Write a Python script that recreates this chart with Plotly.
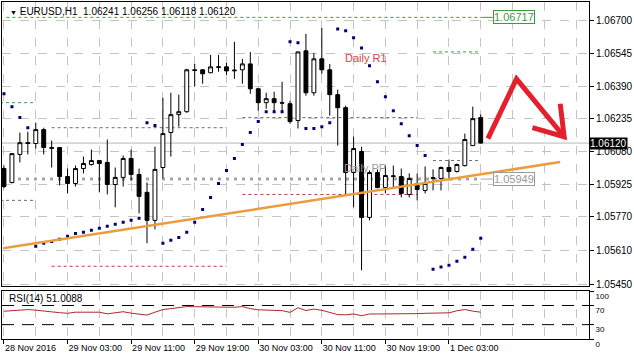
import plotly.graph_objects as go

# ---------------- data ----------------
bars = list(range(61))

opens = [1.05999, 1.05933, 1.06066, 1.06122, 1.06118, 1.06184, 1.06099, 1.06099, 1.05961, 1.05928,
         1.05999, 1.06018, 1.06037, 1.06028, 1.05923, 1.05957, 1.06047, 1.05971, 1.05886, 1.05753,
         1.06004, 1.06170, 1.06255, 1.06269, 1.06468, 1.06468, 1.06454, 1.06482, 1.06482, 1.06463,
         1.06468, 1.06496, 1.06378, 1.06312, 1.06331, 1.06312, 1.06307, 1.06227, 1.06558, 1.06359,
         1.06520, 1.06468, 1.06350, 1.06288, 1.05980, 1.06080, 1.05767, 1.05980, 1.05909, 1.05961,
         1.05961, 1.05876, 1.05928, 1.05895, 1.05952, 1.05952, 1.06004, 1.05985, 1.06013, 1.06108, 1.06241]
highs = [1.06013, 1.06070, 1.06170, 1.06174, 1.06217, 1.06193, 1.06132, 1.06099, 1.05999, 1.06013,
         1.06056, 1.06089, 1.06040, 1.06137, 1.06004, 1.06061, 1.06089, 1.05999, 1.05933, 1.06103,
         1.06335, 1.06359, 1.06350, 1.06473, 1.06496, 1.06470, 1.06539, 1.06539, 1.06501, 1.06601,
         1.06520, 1.06553, 1.06383, 1.06359, 1.06364, 1.06411, 1.06321, 1.06553, 1.06638, 1.06548,
         1.06667, 1.06496, 1.06374, 1.06298, 1.06151, 1.06103, 1.05990, 1.05995, 1.06013, 1.06013,
         1.05999, 1.05976, 1.05976, 1.06009, 1.05995, 1.06009, 1.06042, 1.06023, 1.06165, 1.06293, 1.06256]
lows = [1.05905, 1.05928, 1.06028, 1.06066, 1.06094, 1.06066, 1.06004, 1.05919, 1.05881, 1.05914,
        1.05976, 1.06013, 1.05886, 1.05876, 1.05815, 1.05914, 1.05942, 1.05786, 1.05644, 1.05710,
        1.05952, 1.06056, 1.06198, 1.06264, 1.06388, 1.06402, 1.06452, 1.06459, 1.06444, 1.06425,
        1.06402, 1.06354, 1.06274, 1.06283, 1.06269, 1.06269, 1.06212, 1.06189, 1.06345, 1.06345,
        1.06449, 1.06250, 1.06108, 1.05871, 1.05815, 1.05516, 1.05753, 1.05905, 1.05881, 1.05909,
        1.05862, 1.05862, 1.05848, 1.05881, 1.05895, 1.05895, 1.05942, 1.05980, 1.06009, 1.06108, 1.06118]
closes = [1.05914, 1.06070, 1.06122, 1.06118, 1.06184, 1.06099, 1.06096, 1.05961, 1.05928, 1.05999,
          1.06023, 1.06037, 1.06023, 1.05923, 1.05957, 1.06047, 1.05971, 1.05867, 1.05753, 1.05995,
          1.06165, 1.06255, 1.06269, 1.06468, 1.06465, 1.06449, 1.06482, 1.06480, 1.06463, 1.06466,
          1.06496, 1.06378, 1.06312, 1.06331, 1.06312, 1.06310, 1.06222, 1.06553, 1.06359, 1.06520,
          1.06468, 1.06350, 1.06288, 1.05980, 1.06094, 1.05767, 1.05980, 1.05909, 1.05966, 1.05964,
          1.05881, 1.05952, 1.05900, 1.05928, 1.05955, 1.06004, 1.05985, 1.06018, 1.06137, 1.06236, 1.06120]

sar = [1.06354, 1.06293, 1.06241, 1.06193, 1.05630, 1.05644, 1.05653, 1.05663, 1.05677, 1.05691,
       1.05696, 1.05706, 1.05715, 1.05725, 1.05734, 1.05744, 1.05753, 1.05763, 1.06217, 1.06203,
       1.05644, 1.05658, 1.05672, 1.05696, 1.05744, 1.05805, 1.05862, 1.05928, 1.05990, 1.06047,
       1.06113, 1.06170, 1.06222, 1.06269, 1.06269, 1.06269, 1.06601, 1.06596, 1.06189, 1.06189,
       1.06198, 1.06217, 1.06662, 1.06653, 1.06620, 1.06572, 1.06487, 1.06411, 1.06340, 1.06274,
       1.06212, 1.06155, 1.06108, 1.06061, 1.05521, 1.05531, 1.05540, 1.05559, 1.05578, 1.05616, 1.05668]

rsi = [58.0, 59.0, 60.5, 61.5, 60.2, 58.0, 57.0, 55.0, 53.7, 56.0,
       56.0, 56.2, 56.0, 52.5, 54.5, 57.0, 54.0, 52.0, 50.0, 56.0,
       61.5, 63.5, 65.0, 67.7, 67.5, 67.2, 67.2, 67.0, 66.5, 66.3,
       67.7, 63.5, 61.0, 60.2, 59.8, 59.3, 55.6, 65.3, 59.5, 62.4,
       60.0, 56.0, 51.0, 50.5, 52.3, 48.6, 52.3, 52.3, 52.2, 52.0,
       51.9, 52.5, 53.0, 53.7, 54.5, 54.7, 54.7, 59.0, 61.6, 58.2, 56.0]
rsi_levels = [70, 30]

time_tick_bars = [0, 8, 16, 24, 32, 40, 48, 56]
time_tick_labels = ["28 Nov 2016", "29 Nov 03:00", "29 Nov 11:00", "29 Nov 19:00",
                    "30 Nov 03:00", "30 Nov 11:00", "30 Nov 19:00", "1 Dec 03:00"]
price_ticks = [1.06700, 1.06545, 1.06390, 1.06235, 1.06080, 1.05925, 1.05770, 1.05610, 1.05450]

current_price = 1.06120
daily_pp = 1.05949
daily_r1 = 1.06717

# earlier days' pivot segments
seg_start = [-0.5, -0.5, 6, 6, 30, 30, 54, 54]
seg_end = [4, 4, 28, 28, 52, 52, 60, 60]
seg_level = [1.06312, 1.05848, 1.06193, 1.05535, 1.06241, 1.05876, 1.06553, 1.06037]
seg_kind = ["r", "p", "p", "s", "p", "s", "r", "p"]

trend_bars = [-0.125, 70]
trend_prices = [1.05620, 1.06030]

arrow_bars = [60.9, 64.5, 70.5, None, 70.0, 70.5, 66.5]
arrow_prices = [1.06141, 1.06425, 1.06150, None, 1.06307, 1.06150, 1.06193]

# ---------------- styling ----------------
FONT = "Liberation Sans, Arial, sans-serif"
GRID = "#c4c4c4"
seg_colors = {"r": "#3c9c3c", "p": "#6a6a6a", "s": "#c0393b"}

fig = go.Figure()

fig.add_trace(go.Candlestick(
    x=bars, open=opens, high=highs, low=lows, close=closes,
    increasing=dict(line=dict(color="black", width=1), fillcolor="white"),
    decreasing=dict(line=dict(color="black", width=1), fillcolor="black"),
    whiskerwidth=0, showlegend=False, xaxis="x", yaxis="y"))

fig.add_trace(go.Scatter(
    x=bars, y=sar, mode="markers",
    marker=dict(symbol="square", size=3, color="#00007a"),
    showlegend=False, xaxis="x", yaxis="y"))

fig.add_trace(go.Scatter(
    x=trend_bars, y=trend_prices, mode="lines",
    line=dict(color="#eb9d3e", width=2.5), showlegend=False, xaxis="x", yaxis="y"))

fig.add_trace(go.Scatter(
    x=arrow_bars, y=arrow_prices, mode="lines",
    line=dict(color="#e3202c", width=5), showlegend=False, xaxis="x", yaxis="y"))

fig.add_trace(go.Scatter(
    x=bars, y=rsi, mode="lines",
    line=dict(color="#b0282a", width=1), showlegend=False, xaxis="x2", yaxis="y2"))

shapes = []
for s, e, lv, k in zip(seg_start, seg_end, seg_level, seg_kind):
    shapes.append(dict(type="line", xref="x", yref="y", x0=s, x1=e, y0=lv, y1=lv,
                       line=dict(color=seg_colors[k], width=1, dash="3px,3px"), layer="below"))
shapes.append(dict(type="line", xref="paper", yref="y", x0=0, x1=1, y0=current_price, y1=current_price,
                   line=dict(color="#b8b8b8", width=1), layer="below"))
shapes.append(dict(type="line", xref="x", yref="y", x0=-0.25, x1=bars[-1], y0=daily_pp, y1=daily_pp,
                   line=dict(color="#a6a6a6", width=3, dash="3px,5px"), layer="below"))
shapes.append(dict(type="line", xref="x", yref="y", x0=bars[-1], x1=bars[-1] + 1.5, y0=daily_pp, y1=daily_pp,
                   line=dict(color="#a6a6a6", width=1), layer="below"))
shapes.append(dict(type="line", xref="x", yref="y", x0=0.3, x1=bars[-1] + 0.2, y0=daily_r1, y1=daily_r1,
                   line=dict(color="#3c9c3c", width=1, dash="dot"), layer="below"))
shapes.append(dict(type="line", xref="x", yref="y", x0=bars[-1] + 0.2, x1=bars[-1] + 1.5, y0=daily_r1, y1=daily_r1,
                   line=dict(color="#3c9c3c", width=1), layer="below"))
for lv in rsi_levels:
    shapes.append(dict(type="line", xref="x2 domain", yref="y2", x0=0, x1=1, y0=lv, y1=lv,
                       line=dict(color="black", width=1, dash="12px,8px"), layer="below"))

annotations = [
    dict(xref="paper", yref="paper", x=0.011, y=0.973, xanchor="left", yanchor="middle",
         text="<span style='font-size:7px'>▼</span> EURUSD,H1  1.06241 1.06256 1.06118 1.06120",
         showarrow=False, font=dict(family=FONT, size=10, color="black")),
    dict(xref="paper", yref="paper", x=0.009, y=0.121, xanchor="left", yanchor="middle",
         text="RSI(14) 51.0088", showarrow=False, font=dict(family=FONT, size=10, color="black")),
    dict(xref="x", yref="y", x=42.7, y=1.06525, xanchor="left", yanchor="middle",
         text="Daily R1", showarrow=False, font=dict(family=FONT, size=11, color="#d2474a")),
    dict(xref="x", yref="y", x=42.6, y=1.06004, xanchor="left", yanchor="middle",
         text="Daily PP", showarrow=False, font=dict(family=FONT, size=11, color="#9a9a9a")),
    dict(xref="x", yref="y", x=bars[-1] + 1.5, y=daily_r1, xanchor="left", yanchor="middle",
         text=f"{daily_r1:.5f}", showarrow=False, bgcolor="white", bordercolor="#3c9c3c",
         borderwidth=1, borderpad=0, font=dict(family=FONT, size=11, color="#3c9c3c")),
    dict(xref="x", yref="y", x=bars[-1] + 1.5, y=daily_pp, xanchor="left", yanchor="middle",
         text=f"{daily_pp:.5f}", showarrow=False, bgcolor="white", bordercolor="#9a9a9a",
         borderwidth=1, borderpad=0, font=dict(family=FONT, size=11, color="#9a9a9a")),
    dict(xref="paper", yref="y", x=1.0, y=current_price, xanchor="left", yanchor="middle",
         text=f"{current_price:.5f}", showarrow=False, bgcolor="black", borderpad=0,
         font=dict(family=FONT, size=10, color="white")),
]

main_dom = [(339 - 286) / 338, 1.0]
rsi_dom = [0.0, (339 - 291) / 338]
xr = [-0.25, 73.625]

fig.update_layout(
    width=634, height=359,
    margin=dict(l=1, r=42, t=1, b=20),
    paper_bgcolor="white", plot_bgcolor="white",
    font=dict(family=FONT, size=10, color="black"),
    showlegend=False,
    shapes=shapes, annotations=annotations,
    xaxis=dict(domain=[0, 1], range=xr, anchor="y", rangeslider=dict(visible=False),
               tickmode="array", tickvals=time_tick_bars, showticklabels=False, ticks="",
               showgrid=True, gridcolor=GRID, griddash="dash", gridwidth=1,
               minor=dict(tickmode="linear", tick0=0, dtick=4, showgrid=True, gridcolor=GRID,
                          griddash="dash", gridwidth=1),
               showline=True, linecolor="black", linewidth=1, mirror=True, zeroline=False),
    yaxis=dict(domain=main_dom, range=[1.054405, 1.067900], side="right", anchor="x",
               tickmode="array", tickvals=price_ticks, ticktext=[f"{v:.5f}" for v in price_ticks],
               ticks="outside", ticklen=4, tickcolor="black",
               showgrid=True, gridcolor=GRID, griddash="dash", gridwidth=1,
               showline=True, linecolor="black", linewidth=1, mirror=True, zeroline=False,
               tickfont=dict(family=FONT, size=10, color="black")),
    xaxis2=dict(domain=[0, 1], range=xr, anchor="y2", matches="x",
                tickmode="array", tickvals=time_tick_bars, ticktext=time_tick_labels,
                ticks="outside", ticklen=4, tickcolor="black", ticklabelposition="outside right",
                showgrid=True, gridcolor=GRID, griddash="dash", gridwidth=1,
                minor=dict(tickmode="linear", tick0=0, dtick=4, showgrid=True, gridcolor=GRID,
                           griddash="dash", gridwidth=1),
                showline=True, linecolor="black", linewidth=1, mirror=True, zeroline=False,
                tickfont=dict(family=FONT, size=9, color="black")),
    yaxis2=dict(domain=rsi_dom, range=[0, 100], side="right", anchor="x2",
                tickmode="array", tickvals=[100, 70, 30, 0], ticktext=["100", "70", "30", "0"],
                ticks="outside", ticklen=4, tickcolor="black", showgrid=False, ticklabelshift=5,
                showline=True, linecolor="black", linewidth=1, mirror=True, zeroline=False,
                tickfont=dict(family=FONT, size=8, color="black")),
)

fig.write_html("out.html")
